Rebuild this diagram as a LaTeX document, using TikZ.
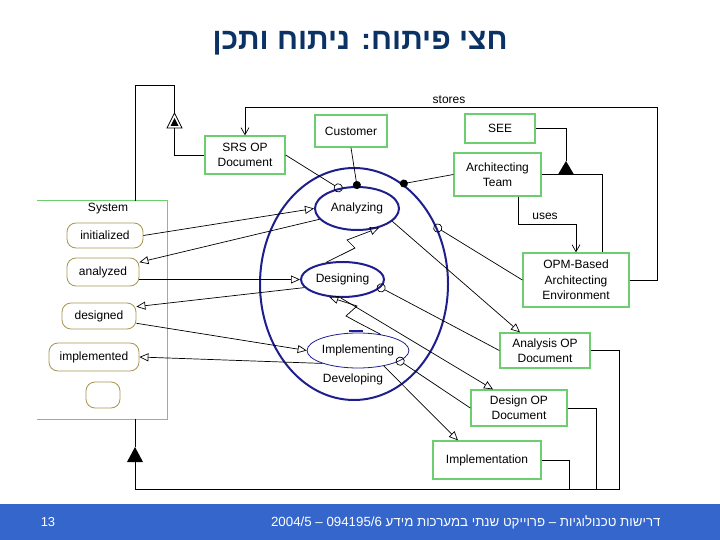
\documentclass[tikz,border=0pt]{standalone}
\usepackage{fontspec}
\setmainfont{Liberation Sans}
\newfontfamily\hebfont[Script=Hebrew]{Liberation Sans}
\TeXXeTstate=1
\usetikzlibrary{arrows.meta,shapes.geometric}
\definecolor{titleblue}{RGB}{10,50,100}
\definecolor{bandblue}{RGB}{52,102,204}
\definecolor{boxgreen}{RGB}{110,205,110}
\definecolor{stateolive}{RGB}{165,150,80}
\definecolor{procnavy}{RGB}{30,30,140}
\begin{document}
\begin{tikzpicture}[x=1pt,y=-1pt,
  txt/.style={font=\fontsize{12}{15}\selectfont},
  obj/.style={draw=boxgreen,line width=1.3pt,align=center,inner sep=0pt,txt},
  state/.style={draw=stateolive,line width=0.8pt,rounded corners=9pt,inner sep=0pt,txt},
  proc/.style={ellipse,draw=procnavy,line width=2pt,inner sep=0pt,txt},
  link/.style={line width=0.7pt},
  res/.style={link,-{Triangle[open,length=9pt,width=8pt]}},
  inst/.style={link,-{Circle[open,length=9pt]},shorten >=-4pt},
  agent/.style={link,-{Circle[length=8pt]},shorten >=-3pt},
  vhead/.style={link,-{Straight Barb[length=7pt,width=8pt]}},
]
\useasboundingbox (0,0) rectangle (720,540);
% footer band
\fill[bandblue] (0,504) rectangle (720,540);
\node[text=white,font=\fontsize{13}{15}\selectfont] (pg) at (48,522) {13};
\node[text=white,anchor=east,font=\hebfont\fontsize{13.3}{15}\selectfont] (foot) at (664,522)
  {\beginR דרישות טכנולוגיות – פרוייקט שנתי במערכות מידע \beginL094195/6\endL{} – \beginL2004/5\endL\endR};
% title
\node[text=titleblue,font=\hebfont\bfseries\fontsize{30}{33}\selectfont] (title) at (360,43)
  {\beginR חצי פיתוח: ניתוח ותכן\endR};

% System box (three sides)
\node[minimum width=130pt,minimum height=218pt,inner sep=0pt] (system) at (102,310) {};
\draw[boxgreen,line width=1.3pt] (system.north west) -- (system.north east) -- (system.south east) -- (system.south west);
\node[txt] (systxt) at (108,209) {System};
\node[state,minimum width=76pt,minimum height=25pt] (init) at (105,235.5) {initialized};
\node[state,minimum width=72pt,minimum height=28pt] (analyzed) at (103,272) {analyzed};
\node[state,minimum width=74pt,minimum height=26pt] (designed) at (99,316) {designed};
\node[state,minimum width=90pt,minimum height=28pt] (implemented) at (94,357) {implemented};
\node[state,minimum width=34pt,minimum height=26pt] (empty) at (103,395) {};

% objects
\node[obj,minimum width=80pt,minimum height=38pt] (srs) at (245,155) {SRS OP\\Document};
\node[obj,minimum width=72pt,minimum height=32pt] (cust) at (351,131) {Customer};
\node[obj,minimum width=70pt,minimum height=29pt] (see) at (500,128.5) {SEE};
\node[obj,minimum width=87pt,minimum height=43pt] (team) at (497.5,174.5) {Architecting\\Team};
\node[obj,minimum width=106pt,minimum height=54pt,font=\fontsize{12}{15.5}\selectfont] (opm) at (576,280) {OPM-Based\\Architecting\\Environment};
\node[obj,minimum width=90pt,minimum height=35pt] (anal) at (545,350.5) {Analysis OP\\Document};
\node[obj,minimum width=96pt,minimum height=36pt] (desg) at (519,408) {Design OP\\Document};
\node[obj,minimum width=108pt,minimum height=38pt] (impl) at (487,460) {Implementation};

% processes
\node[proc,minimum width=188pt,minimum height=232pt] (dev) at (354,284) {};
\node[txt] (devtxt) at (353,379) {Developing};
\node[proc,minimum width=84pt,minimum height=43pt] (analyzing) at (357,208.5) {Analyzing};
\node[proc,minimum width=83pt,minimum height=35pt] (designing) at (342.5,279.5) {Designing};
\node[proc,line width=0.8pt,minimum width=98pt,minimum height=35pt] (implementing) at (358,350.5) {Implementing};
\draw[procnavy,line width=2pt] (349,331) -- (363,331);

% exhibition (top)
\coordinate (sysTop) at ([xshift=33pt]system.north);
\coordinate (exApex) at (174.5,113);
\coordinate (exBase) at (174.5,128);
\draw[link] (sysTop) -- (135,85) -- (174.5,85) -- (exApex);
\draw[link,fill=white] (167,128) -- (exApex) -- (182,128) -- cycle;
\fill (170.5,126) -- (174.5,118) -- (178.5,126) -- cycle;
\draw[link] (exBase) |- (srs.west);

% stores
\draw[vhead] (opm.east) -- (657,280) -- (657,107) -| (srs.north);
\node[txt] (stores) at (449,100) {stores};

% SEE aggregation
\coordinate (agApex) at (566,161);
\draw[link] (see.east) -| (agApex);
\fill (558,174.5) -- (agApex) -- (574,174.5) -- cycle;
\draw[link] (team.east) -| ([xshift=26pt]opm.north);

% uses
\draw[vhead] ([xshift=20.5pt]team.south) -- (518,224) -- (576,224) -- (opm.north);
\node[txt] (uses) at (545,216) {uses};

% System aggregation (bottom)
\coordinate (sysBot) at ([xshift=33pt]system.south);
\coordinate (agApex2) at (135,447);
\coordinate (agBase2) at (135,462);
\draw[link] (sysBot) -- (agApex2);
\fill (127,462) -- (agApex2) -- (143,462) -- cycle;
\draw[link] (anal.east) -| (619,489) -- (135,489) -- (agBase2);
\draw[link] (desg.east) -| (596,489);
\draw[link] (impl.east) -| (569,489);

% agents
\draw[agent] (cust.south) -- (analyzing.north);
\draw[agent] (team.west) -- (dev.64);

% instruments
\draw[inst] (srs.east) -- (analyzing.132);
\draw[inst] (opm.west) -- (dev.34);
\draw[inst] (anal.west) -- (designing.-12);
\draw[inst] (desg.west) -- (implementing.-14);

% results / consumption
\draw[res] (analyzing.-20) -- ([xshift=-25pt]anal.north);
\draw[res] (designing.265) -- ([xshift=-26pt]desg.north);
\draw[res] (implementing.-31) -- ([xshift=-29pt]impl.north);
\draw[res] (init.east) -- (analyzing.west);
\draw[res] (analyzing.196) -- (analyzed.15);
\draw[res] (analyzed.east |- designing.west) -- (designing.west);
\draw[res] (designing.192) -- (designed.14);
\draw[res] (designed.-11) -- (implementing.west);
\draw[res] (implementing.200) -- (implemented.east);

% invocation zigzags
\draw[res] (designing.134) -- (355,248) -- (347,240) -- (analyzing.-41);
\draw[res] (implementing.35) -- (357,322) -- (346,316) -- (357,306) -- (designing.233);
\end{tikzpicture}
\end{document}
